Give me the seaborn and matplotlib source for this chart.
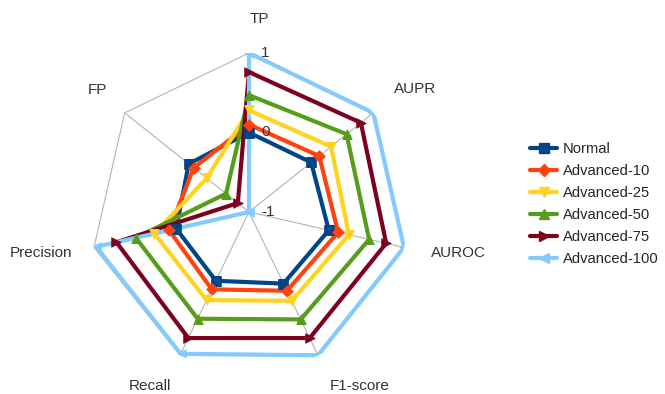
import numpy as np
import pandas as pd
import matplotlib
matplotlib.use("Agg")
import matplotlib.pyplot as plt
import seaborn as sns
from matplotlib.lines import Line2D

sns.set_style("white")
plt.rcParams['font.family'] = ['Liberation Sans', 'DejaVu Sans']

categories = ["TP", "AUPR", "AUROC", "F1-score", "Recall", "Precision", "FP"]
series_names = ["Normal", "Advanced-10", "Advanced-25", "Advanced-50", "Advanced-75", "Advanced-100"]
normal = [0.0, 0.0, 0.03, 0.0, -0.04, -0.06, -0.03]
adv10 = [0.1, 0.13, 0.15, 0.1, 0.08, 0.03, -0.11]
adv25 = [0.28, 0.32, 0.29, 0.24, 0.23, 0.22, -0.32]
adv50 = [0.47, 0.57, 0.55, 0.5, 0.49, 0.46, -0.63]
adv75 = [0.76, 0.8, 0.77, 0.76, 0.76, 0.71, -0.82]
adv100 = [1.0, 1.0, 1.0, 1.0, 0.98, 0.97, -1.0]
values = [normal, adv10, adv25, adv50, adv75, adv100]
r_ticks = [-1, 0, 1]

colors = ["#004586", "#ff420e", "#ffd320", "#579d1c", "#7e0021", "#83caff"]
markers = ["s", "D", "v", "^", ">", "<"]
msizes = [48, 36, 48, 48, 48, 48]

n = len(categories)
theta = np.linspace(0, 2 * np.pi, n, endpoint=False)

rows = []
for name, vals in zip(series_names, values):
    for i in range(n):
        rows.append({"theta": theta[i], "value": vals[i], "series": name, "order": i})
df = pd.DataFrame(rows)

fig = plt.figure(figsize=(6.65, 3.94), dpi=100)
R = 159
ax = fig.add_axes([(249 - R) / 665, (394 - 212 - R) / 394, 2 * R / 665, 2 * R / 394],
                  projection="polar")
ax.set_theta_offset(np.pi / 2)
ax.set_theta_direction(-1)
ax.set_ylim(-1, 1)
ax.grid(False)
ax.spines["polar"].set_visible(False)
ax.set_xticks([])
ax.set_yticks([])


def chord(t0, r0, t1, r1, k=40):
    x0, y0 = np.sin(t0) * (r0 + 1), np.cos(t0) * (r0 + 1)
    x1, y1 = np.sin(t1) * (r1 + 1), np.cos(t1) * (r1 + 1)
    s = np.linspace(0, 1, k)
    xs, ys = x0 + (x1 - x0) * s, y0 + (y1 - y0) * s
    return np.arctan2(xs, ys), np.hypot(xs, ys) - 1


# grid: spokes and outer heptagon
for t in theta:
    ax.plot([t, t], [-1, 1], color="#b3b3b3", lw=0.8, zorder=1)
for i in range(n):
    tt, rr = chord(theta[i], 1, theta[(i + 1) % n], 1)
    ax.plot(tt, rr, color="#b3b3b3", lw=0.8, zorder=1)

# series drawn as straight chords between axis points
dense_rows = []
for name, vals in zip(series_names, values):
    k = 0
    for i in range(n):
        tt, rr = chord(theta[i], vals[i], theta[(i + 1) % n], vals[(i + 1) % n])
        for a, b in zip(tt, rr):
            dense_rows.append({"theta": a, "value": b, "series": name, "order": k})
            k += 1
ddf = pd.DataFrame(dense_rows)

for name, c, m, ms in zip(series_names, colors, markers, msizes):
    sub = ddf[ddf["series"] == name]
    sns.lineplot(data=sub, x="theta", y="value", sort=False, estimator=None,
                 color=c, lw=3.0, ax=ax, zorder=3, legend=False)
    pts = df[df["series"] == name]
    sns.scatterplot(data=pts, x="theta", y="value", marker=m, color=c, s=ms,
                    edgecolor=c, linewidth=0.5, ax=ax, zorder=4, legend=False)

ax.set_xlabel("")
ax.set_ylabel("")
ax.set_ylim(-1, 1)

for rt in r_ticks:
    ax.annotate(str(rt), xy=(0, rt), xytext=(12, 0), textcoords="offset pixels",
                ha="left", va="center", fontsize=11, color="#333333", annotation_clip=False)

label_off = [(10, 34), (42, 24), (54, -6), (42, -31), (-30, -31), (-53, -6), (-27, 23)]
for t, lab, off in zip(theta, categories, label_off):
    ax.annotate(lab, xy=(t, 1), xytext=off, textcoords="offset pixels",
                ha="center", va="center", fontsize=11, color="#333333", annotation_clip=False)

handles = [Line2D([0], [0], color=c, lw=3.0, marker=m, markersize=7 if m != "D" else 6,
                  markeredgecolor=c)
           for c, m in zip(colors, markers)]
fig.legend(handles, series_names, loc="upper left", bbox_to_anchor=(0.797, 0.64),
           frameon=False, fontsize=10.6, handlelength=1.85, labelspacing=0.55,
           handletextpad=0.4, borderaxespad=0, borderpad=0)

fig.savefig("out.png", dpi=100)
